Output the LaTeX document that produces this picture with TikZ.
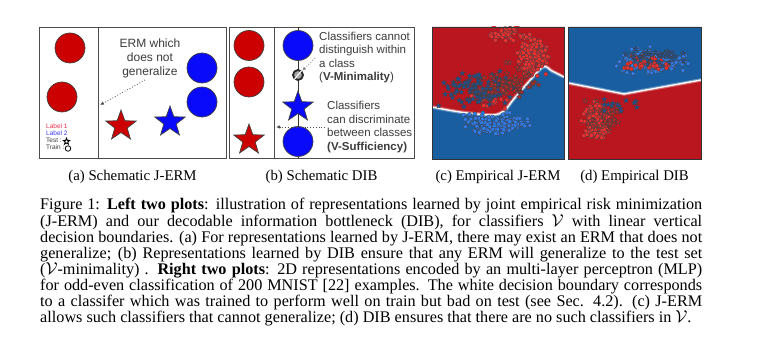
\documentclass[tikz,border=0pt]{standalone}
\usepackage{amsmath,amssymb}
\usepackage{fontspec}
\setmainfont{Liberation Serif}
\newfontfamily\drawfont{Liberation Sans}
\usetikzlibrary{arrows.meta,shapes.geometric}

\definecolor{ptred}{RGB}{204,0,0}
\definecolor{ptblue}{RGB}{10,10,250}
\definecolor{regred}{RGB}{186,22,32}
\definecolor{regblue}{RGB}{26,94,162}
\definecolor{dotred}{RGB}{245,45,45}
\definecolor{dotblue}{RGB}{45,125,240}
\definecolor{inkgray}{RGB}{60,60,60}
\definecolor{labone}{RGB}{235,50,80}
\definecolor{labtwo}{RGB}{60,60,250}

\tikzset{
  smstar/.pic={\filldraw[pic actions] (270:2.8)--(306:1.15)--(342:2.8)--(18:1.15)--(54:2.8)--(90:1.15)--(126:2.8)--(162:1.15)--(198:2.8)--(234:1.15)--cycle;}
}

% random point clouds: count, cx, cy, sx, sy, style
\newcommand{\ptcloud}[6]{%
  \foreach \i in {1,...,#1}{%
    \pgfmathsetmacro{\px}{#2+#4*(rand+rand+rand)*0.75}%
    \pgfmathsetmacro{\py}{#3+#5*(rand+rand+rand)*0.75}%
    \filldraw[#6] (\px,\py) circle[radius=2pt];}}
\newcommand{\stcloud}[6]{%
  \foreach \i in {1,...,#1}{%
    \pgfmathsetmacro{\px}{#2+#4*(rand+rand+rand)*0.75}%
    \pgfmathsetmacro{\py}{#3+#5*(rand+rand+rand)*0.75}%
    \pic[#6] at (\px,\py) {smstar};}}

\begin{document}
\begin{tikzpicture}[
  x=1pt, y=-1pt,
  frame/.style={draw=black!70,line width=0.9pt},
  rdisc/.style={circle,draw=black!75,line width=0.7pt,fill=ptred,minimum size=30pt,inner sep=0pt},
  bdisc/.style={circle,draw=black!75,line width=0.7pt,fill=ptblue,minimum size=30pt,inner sep=0pt},
  rstar/.style={star,star points=5,star point ratio=2.45,draw=black!75,line width=0.7pt,fill=ptred,minimum size=32pt,inner sep=0pt},
  bstar/.style={star,star points=5,star point ratio=2.45,draw=black!75,line width=0.7pt,fill=ptblue,minimum size=32pt,inner sep=0pt},
  nomark/.style={circle,draw=black!85,line width=1.8pt,fill=black!35,minimum size=10pt,inner sep=0pt},
  note/.style={font=\drawfont\fontsize{12}{14}\selectfont,text=inkgray,inner sep=0pt},
  bnote/.style={font=\drawfont\fontsize{11.5}{13.5}\selectfont,text=inkgray,inner sep=0pt,align=left,anchor=north west},
  legend/.style={font=\drawfont\fontsize{6.5}{7}\selectfont,inner sep=0pt,anchor=base west,text height=4.6pt,text depth=0pt},
  dotarr/.style={-{Latex[length=4pt,width=3.5pt]},dotted,line width=0.8pt,draw=black!70},
  reddot/.style={fill=dotred,draw=black!75,line width=0.3pt},
  bluedot/.style={fill=dotblue,draw=black!75,line width=0.3pt},
  redstar/.style={fill=dotred!80!black,draw=black!75,line width=0.3pt},
  bluestar/.style={fill=dotblue!65!black,draw=black!75,line width=0.3pt},
  subcap/.style={anchor=base,inner sep=0pt,font=\fontsize{14.8}{16}\selectfont},
  capline/.style={anchor=base west,inner sep=0pt,text height=10.5pt,text depth=3pt,font=\fontsize{16.2}{16.4}\selectfont}
]
  \useasboundingbox (0,0) rectangle (782,363);
  \fill[white] (0,0) rectangle (782,363);

  % (a) schematic J-ERM
  \draw[frame] (39,27) rectangle (226,158);
  \draw[frame] (98,27) -- (98,158);
  \node[rdisc] (ra1) at (70,48) {};
  \node[rdisc] (ra2) at (62,97) {};
  \node[bdisc] (ba1) at (202,68) {};
  \node[bdisc] (ba2) at (202,102) {};
  \node[rstar] (rsa) at (121,126) {};
  \node[bstar] (bsa) at (170,122) {};
  \node[note,align=center,anchor=north] (erm) at (150,38.5) {ERM which\\does not\\generalize};
  \coordinate (ermtail) at (145,80);
  \coordinate (ermhead) at (100,105);
  \draw[dotarr] (ermtail) -- (ermhead);

  \node[legend,text=labone] (lab1) at (46,129) {Label 1};
  \node[legend,text=labtwo] (lab2) at (46,136) {Label 2};
  \node[legend,text=inkgray] (legtest) at (46,143) {Test :};
  \node[legend,text=inkgray] (legtrain) at (46,150) {Train :};
  \node[star,star points=5,star point ratio=2.3,draw=black,fill=white,line width=0.9pt,minimum size=6.5pt,inner sep=0pt] (icostar) at (66.5,141.5) {};
  \node[circle,draw=black,line width=0.8pt,minimum size=5.5pt,inner sep=0pt] (icocirc) at (68,148.5) {};

  % (b) schematic DIB
  \draw[frame] (229,27) rectangle (414,158);
  \draw[frame] (274,27) -- (274,158);
  \coordinate (vtop) at (298,27);
  \coordinate (vbot) at (298,158);
  \draw[black!80,line width=0.6pt] (vtop) -- (vbot);
  \node[rdisc] (rb1) at (249,45.5) {};
  \node[rdisc] (rb2) at (249,82) {};
  \node[rstar] (rsb) at (249,140) {};
  \node[bdisc] (bb1) at (298,45.5) {};
  \node[nomark] (mk) at (298,75) {};
  \draw[white,line width=1pt] (mk.50) -- (mk.230);
  \node[bstar] (bsb) at (298,107) {};
  \node[bdisc] (bb2) at (298,141.5) {};
  \node[bnote] (vmin) at (319,31.6)
    {Classifiers cannot\\distinguish within\\a class\\(\textbf{V-Minimality})};
  \node[bnote] (vsuf) at (327,101.4)
    {Classifiers\\can discriminate\\between classes\\\textbf{(V-Sufficiency)}};
  \coordinate (mintail) at (315,58);
  \draw[dotarr,draw=black!45] (mintail) -- (mk);
  \coordinate (suftail) at (325,127);
  \coordinate (sufhead) at (276,127);
  \draw[dotarr] (suftail) -- (sufhead);

  % (c) empirical J-ERM
  \begin{scope}
    \clip (432,27) rectangle (564,159);
    \fill[regblue] (432,27) rectangle (564,159);
    \fill[regred] (432,27) -- (564,27) -- plot[smooth,tension=0.5] coordinates
      {(564,77) (552,71) (543,67) (525,86) (513,100) (504,111) (492,115) (460,112) (432,107)} -- cycle;
    \draw[white,line width=3.5pt,opacity=0.35] plot[smooth,tension=0.5] coordinates
      {(564,77) (552,71) (543,67) (525,86) (513,100) (504,111) (492,115) (460,112) (432,107)};
    \draw[white,line width=1.3pt] plot[smooth,tension=0.5] coordinates
      {(564,77) (552,71) (543,67) (525,86) (513,100) (504,111) (492,115) (460,112) (432,107)};
    \pgfmathsetseed{2020}
    \ptcloud{50}{512}{34}{13}{5}{reddot}
    \ptcloud{230}{533}{57}{9}{10}{reddot}
    \ptcloud{40}{492}{96}{12}{8}{reddot}
    \ptcloud{160}{497}{123}{19}{6}{bluedot}
    \stcloud{110}{478}{88}{21}{10}{bluestar}
    \stcloud{70}{512}{82}{15}{11}{redstar}
  \end{scope}
  \draw[black!80,line width=0.6pt] (432,27) rectangle (564,159);

  % (d) empirical DIB
  \begin{scope}
    \clip (568,27) rectangle (701,159);
    \fill[regred] (568,27) rectangle (701,159);
    \fill[regblue] (568,27) -- (701,27) -- (701,80) -- (624,94) -- (568,83) -- cycle;
    \draw[white,line width=3.5pt,opacity=0.35] (568,83) -- (624,94) -- (701,80);
    \draw[white,line width=1.3pt] (568,83) -- (624,94) -- (701,80);
    \pgfmathsetseed{77}
    \ptcloud{230}{651}{61}{19}{7}{bluedot}
    \ptcloud{40}{645}{64}{14}{5}{reddot}
    \stcloud{35}{655}{58}{18}{6}{bluestar}
    \ptcloud{230}{597}{121}{8}{11}{reddot}
    \stcloud{30}{600}{118}{12}{11}{redstar}
    \stcloud{14}{617}{106}{14}{7}{bluestar}
  \end{scope}
  \draw[black!80,line width=0.6pt] (568,27) rectangle (701,159);

  % sub-captions
  \node[subcap] (capa) at (132.5,180.5) {(a) Schematic J-ERM};
  \node[subcap] (capb) at (321.5,180.5) {(b) Schematic DIB};
  \node[subcap] (capc) at (498,180.5) {(c) Empirical J-ERM};
  \node[subcap] (capd) at (634.5,180.5) {(d) Empirical DIB};

  % caption
  \node[capline] (cap1) at (40,210.0) {\makebox[662pt][s]{Figure 1: \textbf{Left two plots}: illustration of representations learned by joint empirical risk minimization}};
  \node[capline] (cap2) at (40,226.1) {\makebox[662pt][s]{(J-ERM) and our decodable information bottleneck (DIB), for classifiers $\mathcal{V}$ with linear vertical}};
  \node[capline] (cap3) at (40,242.2) {\makebox[662pt][s]{decision boundaries. (a) For representations learned by J-ERM, there may exist an ERM that does not}};
  \node[capline] (cap4) at (40,258.3) {\makebox[662pt][s]{generalize; (b) Representations learned by DIB ensure that any ERM will generalize to the test set}};
  \node[capline] (cap5) at (40,274.4) {\makebox[662pt][s]{($\mathcal{V}$-minimality) . \textbf{Right two plots}: 2D representations encoded by an multi-layer perceptron (MLP)}};
  \node[capline] (cap6) at (40,290.5) {\makebox[662pt][s]{for odd-even classification of 200 MNIST [22] examples. The white decision boundary corresponds}};
  \node[capline] (cap7) at (40,306.6) {\makebox[662pt][s]{to a classifer which was trained to perform well on train but bad on test (see Sec. 4.2). (c) J-ERM}};
  \node[capline] (cap8) at (40,322.7) {allows such classifiers that cannot generalize; (d) DIB ensures that there are no such classifiers in $\mathcal{V}$.};
\end{tikzpicture}
\end{document}
